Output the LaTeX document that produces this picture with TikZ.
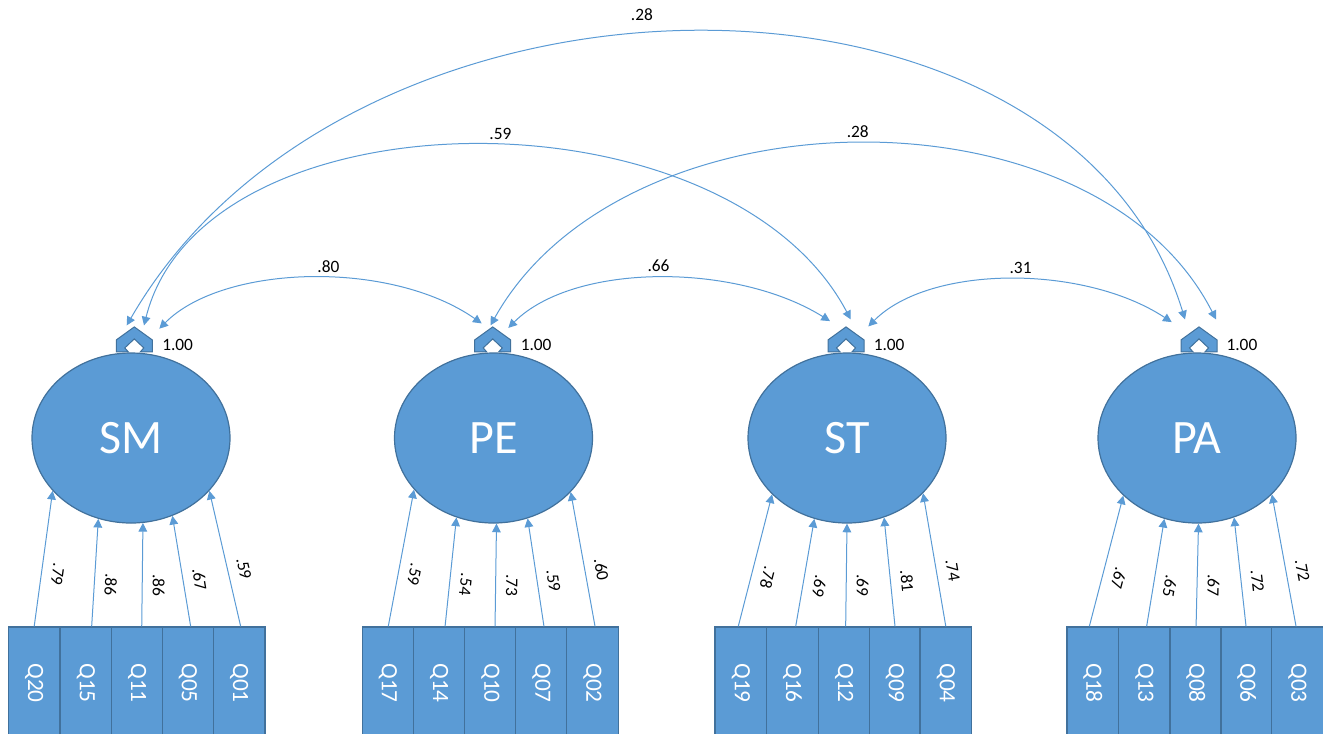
\documentclass[tikz,border=0pt]{standalone}
\usepackage{fontspec}
\setmainfont{Carlito}
\usetikzlibrary{shapes.geometric,arrows.meta}
\definecolor{fillb}{HTML}{5B9BD5}
\definecolor{edgeb}{HTML}{41719C}
\definecolor{lineb}{HTML}{5B9BD5}
\tikzset{
  latent/.style={ellipse, fill=fillb, draw=edgeb, line width=0.9pt,
    minimum width=148.5pt, minimum height=127.5pt, inner sep=0pt,
    text=white, font=\fontsize{36}{40}\selectfont},
  obs/.style={rectangle, fill=fillb, draw=edgeb, line width=1pt,
    minimum width=38.6pt, minimum height=84pt, inner sep=0pt,
    text=white, font=\fontsize{17.5}{20}\selectfont},
  load/.style={draw=lineb, line width=0.75pt, {Triangle[length=6.5pt,width=6.5pt]}-},
  cov/.style={draw=lineb, line width=0.75pt,
    {Triangle[length=6.5pt,width=6.5pt]}-{Triangle[length=6.5pt,width=6.5pt]}},
  lab/.style={font=\fontsize{13}{15}\selectfont, inner sep=0pt, sloped,
    allow upside down, pos=0.6, above=7.5pt},
  clab/.style={font=\fontsize{13}{15}\selectfont, inner sep=0pt, above=4pt},
  vlab/.style={font=\fontsize{13}{15}\selectfont, inner sep=0pt, anchor=west},
  chev/.pic={\draw[fill=fillb, draw=edgeb, line width=0.75pt]
    (-18,0) -- (-18,12) -- (0,25) -- (18,12) -- (18,0) -- (6,0)
    -- (9.5,4) -- (0,13) -- (-9.5,4) -- (-6,0) -- cycle;}
}
\begin{document}
\begin{tikzpicture}[x=0.75pt,y=0.75pt]
\useasboundingbox (0,0) rectangle (1323,-733);
\clip (0,0) rectangle (1323,-733);

% latent variables
\node[latent] (SM) at (131,-438) {SM};
\node[latent] (PE) at (493.5,-438) {PE};
\node[latent] (ST) at (847,-438) {ST};
\node[latent] (PA) at (1197,-438) {PA};

% variance symbols
\pic at ([shift={(3.3,0.5)}]SM.north) {chev};
\pic at ([shift={(-0.8,0.5)}]PE.north) {chev};
\pic at ([shift={(-1,0.5)}]ST.north) {chev};
\pic at ([shift={(2,0.5)}]PA.north) {chev};
\node[vlab] (SMv) at ([shift={(31,7)}]SM.north) {1.00};
\node[vlab] (PEv) at ([shift={(27,7)}]PE.north) {1.00};
\node[vlab] (STv) at ([shift={(26.5,7)}]ST.north) {1.00};
\node[vlab] (PAv) at ([shift={(29.3,7)}]PA.north) {1.00};

% observed variables
\node[obs] (Q20) at (34.2,-683) {\rotatebox{-90}{Q20}};
\node[obs] (Q15) at (85.8,-683) {\rotatebox{-90}{Q15}};
\node[obs] (Q11) at (137.2,-683) {\rotatebox{-90}{Q11}};
\node[obs] (Q05) at (188,-683) {\rotatebox{-90}{Q05}};
\node[obs] (Q01) at (239.2,-683) {\rotatebox{-90}{Q01}};

\node[obs] (Q17) at (388,-683) {\rotatebox{-90}{Q17}};
\node[obs] (Q14) at (439.2,-683) {\rotatebox{-90}{Q14}};
\node[obs] (Q10) at (490.5,-683) {\rotatebox{-90}{Q10}};
\node[obs] (Q07) at (541.3,-683) {\rotatebox{-90}{Q07}};
\node[obs] (Q02) at (592.5,-683) {\rotatebox{-90}{Q02}};

\node[obs] (Q19) at (740.8,-683) {\rotatebox{-90}{Q19}};
\node[obs] (Q16) at (792.5,-683) {\rotatebox{-90}{Q16}};
\node[obs] (Q12) at (844.2,-683) {\rotatebox{-90}{Q12}};
\node[obs] (Q09) at (895,-683) {\rotatebox{-90}{Q09}};
\node[obs] (Q04) at (945.8,-683) {\rotatebox{-90}{Q04}};

\node[obs] (Q18) at (1092.8,-683) {\rotatebox{-90}{Q18}};
\node[obs] (Q13) at (1144.5,-683) {\rotatebox{-90}{Q13}};
\node[obs] (Q08) at (1195.8,-683) {\rotatebox{-90}{Q08}};
\node[obs] (Q06) at (1246.7,-683) {\rotatebox{-90}{Q06}};
\node[obs] (Q03) at (1297.5,-683) {\rotatebox{-90}{Q03}};

% loadings
\draw[load] (SM.214) -- ([xshift=0pt]Q20.north) node[lab]{.79};
\draw[load] (SM.248) -- ([xshift=4.4pt]Q15.north) node[lab]{.86};
\draw[load] (SM.278) -- ([xshift=3.4pt]Q11.north) node[lab]{.86};
\draw[load] (SM.298) -- ([xshift=2pt]Q05.north) node[lab]{.67};
\draw[load] (SM.326) -- ([xshift=1.1pt]Q01.north) node[lab]{.59};

\draw[load] (PE.213) -- ([xshift=0.2pt]Q17.north) node[lab]{.59};
\draw[load] (PE.245) -- ([xshift=4.4pt]Q14.north) node[lab]{.54};
\draw[load] (PE.272) -- ([xshift=3.4pt]Q10.north) node[lab]{.73};
\draw[load] (PE.293) -- ([xshift=2pt]Q07.north) node[lab]{.59};
\draw[load] (PE.325) -- ([xshift=1.9pt]Q02.north) node[lab]{.60};

\draw[load] (ST.217) -- ([xshift=-1.9pt]Q19.north) node[lab]{.78};
\draw[load] (ST.248) -- ([xshift=2.4pt]Q16.north) node[lab]{.69};
\draw[load] (ST.270) -- ([xshift=1.1pt]Q12.north) node[lab]{.69};
\draw[load] (ST.295) -- ([xshift=0pt]Q09.north) node[lab]{.81};
\draw[load] (ST.324) -- ([xshift=0pt]Q04.north) node[lab]{.74};

\draw[load] (PA.218) -- ([xshift=-2.6pt]Q18.north) node[lab]{.67};
\draw[load] (PA.248) -- ([xshift=1.6pt]Q13.north) node[lab]{.65};
\draw[load] (PA.271) -- ([xshift=0.2pt]Q08.north) node[lab]{.67};
\draw[load] (PA.295) -- ([xshift=-0.5pt]Q06.north) node[lab]{.72};
\draw[load] (PA.323) -- ([xshift=-1.1pt]Q03.north) node[lab]{.72};

% covariance end points
\coordinate (SMc1) at ([shift={(-4.3,27)}]SM.north);
\coordinate (SMc2) at ([shift={(13,27)}]SM.north);
\coordinate (SMc3) at ([shift={(28.3,23.7)}]SM.north);
\coordinate (PEc1) at ([shift={(-11.8,29)}]PE.north);
\coordinate (PEc2) at ([shift={(-3,27)}]PE.north);
\coordinate (PEc3) at ([shift={(14.8,24.5)}]PE.north);
\coordinate (STc1) at ([shift={(-17,31.3)}]ST.north);
\coordinate (STc2) at ([shift={(3.7,33)}]ST.north);
\coordinate (STc3) at ([shift={(21.3,26)}]ST.north);
\coordinate (PAc1) at ([shift={(-25.3,30.3)}]PA.north);
\coordinate (PAc2) at ([shift={(-12,33)}]PA.north);
\coordinate (PAc3) at ([shift={(19,33)}]PA.north);

% covariances
\draw[cov] (SMc3) .. controls +(63.7,64.3) and +(-91.7,64) .. (PEc1) node[clab, pos=0.55]{.80};
\draw[cov] (PEc3) .. controls +(65.7,65.5) and +(-94,58.7) .. (STc1) node[clab, pos=0.5]{.66};
\draw[cov] (STc3) .. controls +(61.7,62) and +(-87.7,57.7) .. (PAc1) node[clab, pos=0.53]{.31};
\draw[cov] (SMc2) .. controls +(59,236) and +(-124.7,236) .. (STc2) node[clab, pos=0.53]{.59};
\draw[cov] (SMc1) .. controls +(223.3,387) and +(-118,387) .. (PAc2) node[clab, pos=0.46, above=6pt]{.28};
\draw[cov] (PEc2) .. controls +(133,238) and +(-121,238) .. (PAc3) node[clab, pos=0.5]{.28};
\end{tikzpicture}
\end{document}
